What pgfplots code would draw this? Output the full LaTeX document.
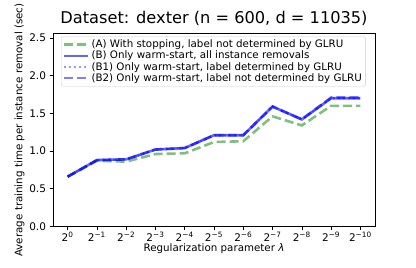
\documentclass[border=0pt]{standalone}
\usepackage{fontspec}
\setmainfont{DejaVu Sans}
\usepackage{pgfplots}
\pgfplotsset{compat=1.18}
\definecolor{mplgreen}{RGB}{0,128,0}
\definecolor{mplblue}{RGB}{0,0,255}
\begin{document}
\begin{tikzpicture}
\begin{axis}[
  scale only axis,
  width=322pt, height=193pt,
  xmin=-0.5, xmax=10.5,
  ymin=0, ymax=2.56,
  xtick={0,1,2,3,4,5,6,7,8,9,10},
  xticklabels={2\textsuperscript{0},2\textsuperscript{−1},2\textsuperscript{−2},2\textsuperscript{−3},2\textsuperscript{−4},2\textsuperscript{−5},2\textsuperscript{−6},2\textsuperscript{−7},2\textsuperscript{−8},2\textsuperscript{−9},2\textsuperscript{−10}},
  ytick={0,0.5,1,1.5,2,2.5},
  yticklabel style={/pgf/number format/fixed,/pgf/number format/fixed zerofill,/pgf/number format/precision=1},
  /pgf/number format/assume math mode=true,
  tick align=outside,
  tick pos=left,
  major tick length=3.5pt,
  tick style={black, line width=0.6pt},
  axis line style={line width=0.6pt},
  ticklabel style={font=\fontsize{10.5}{12}\selectfont},
  xticklabel style={yshift=1pt},
  xlabel={Regularization parameter {\itshape λ}},
  ylabel={Average training time per instance removal (sec)},
  label style={font=\fontsize{10.3}{12}\selectfont},
  xlabel style={yshift=5pt},
  ylabel style={yshift=-2pt},
  title={Dataset: dexter (n = 600, d = 11035)},
  title style={font=\fontsize{16.2}{18}\selectfont, yshift=-2pt},
  legend style={at={(0.025,0.985)}, anchor=north west, font=\fontsize{10.3}{12}\selectfont,
    draw=black!20, rounded corners=2pt, fill=white, fill opacity=0.8, text opacity=1,
    row sep=-2.2pt, inner sep=1.5pt},
  legend cell align=left,
  legend image code/.code={\draw[#1] (0cm,0cm) -- (0.85cm,0cm);},
]
\addplot[mplgreen, opacity=0.5, line width=2.6pt, dash pattern=on 9pt off 4pt] coordinates {
(0,0.66) (1,0.87) (2,0.86) (3,0.96) (4,0.97) (5,1.12) (6,1.13) (7,1.46) (8,1.34) (9,1.60) (10,1.60)};
\addlegendentry{(A) With stopping, label not determined by GLRU}
\addplot[mplblue, opacity=0.6, line width=2.6pt] coordinates {
(0,0.66) (1,0.88) (2,0.89) (3,1.02) (4,1.04) (5,1.21) (6,1.21) (7,1.59) (8,1.42) (9,1.70) (10,1.70)};
\addlegendentry{(B) Only warm-start, all instance removals}
\addplot[mplblue, opacity=0.4, line width=2.2pt, dash pattern=on 2pt off 3pt] coordinates {
(0,0.66) (1,0.88) (2,0.89) (3,1.02) (4,1.04) (5,1.21) (6,1.21) (7,1.59) (8,1.42) (9,1.70) (10,1.70)};
\addlegendentry{(B1) Only warm-start, label determined by GLRU}
\addplot[mplblue, opacity=0.5, line width=2.6pt, dash pattern=on 9pt off 4pt] coordinates {
(0,0.66) (1,0.88) (2,0.89) (3,1.02) (4,1.04) (5,1.21) (6,1.21) (7,1.59) (8,1.42) (9,1.71) (10,1.71)};
\addlegendentry{(B2) Only warm-start, label not determined by GLRU}
\end{axis}
\path ([shift={(-53pt,-41pt)}]current axis.south west) rectangle ([shift={(41pt,33pt)}]current axis.north east);
\end{tikzpicture}
\end{document}
